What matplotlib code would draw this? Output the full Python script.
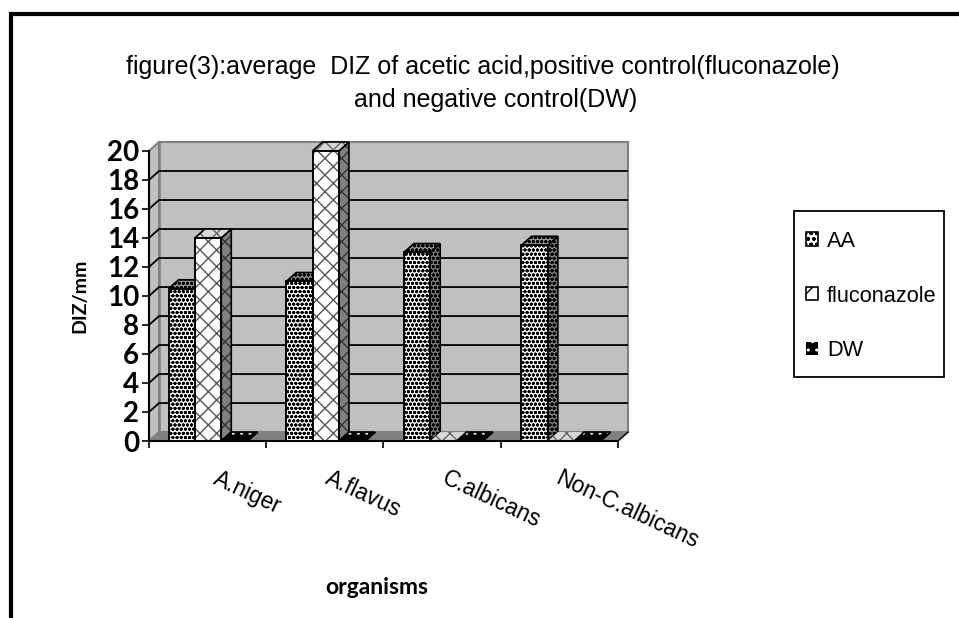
import matplotlib
matplotlib.use("Agg")
import matplotlib.pyplot as plt
from matplotlib.patches import Rectangle, Polygon
from matplotlib.lines import Line2D

categories = ["A.niger", "A.flavus", "C.albicans", "Non-C.albicans"]
series_names = ["AA", "fluconazole", "DW"]
aa = [10.5, 11, 13, 13.5]
fluconazole = [14, 20, 0, 0]
dw = [0, 0, 0, 0]
yticks = list(range(0, 21, 2))

W, H = 959, 618
plt.rcParams["font.family"] = ["Liberation Sans", "DejaVu Sans"]
plt.rcParams["hatch.linewidth"] = 1.0
fig = plt.figure(figsize=(W / 100, H / 100), dpi=100, facecolor="white")

fig.add_artist(Line2D([11 / W, 11 / W, 1], [0, 1 - 14 / H, 1 - 14 / H], color="black", lw=3,
                      solid_joinstyle="miter", transform=fig.transFigure))

L, R, B, T = 149, 628, 441, 142
ax = fig.add_axes([L / W, 1 - B / H, (R - L) / W, (B - T) / H])
DX = 10 / 117
DY = 9 / 14.6
ax.set_xlim(0, 4 + DX)
ax.set_ylim(0, 20 + DY)
for s in ax.spines.values():
    s.set_visible(False)
ax.patch.set_visible(False)

ax.add_patch(Polygon([(DX, DY), (4 + DX, DY), (4 + DX, 20 + DY), (DX, 20 + DY)], fc="#c0c0c0", ec="#808080", lw=1.5, zorder=1, clip_on=False))
ax.add_patch(Polygon([(0, 0), (DX, DY), (DX, 20 + DY), (0, 20)], fc="#c0c0c0", ec="#808080", lw=1.5, zorder=1, clip_on=False))
ax.add_patch(Polygon([(0, 0), (4, 0), (4 + DX, DY), (DX, DY)], fc="#808080", ec="#808080", lw=1, zorder=1, clip_on=False))
ax.plot([DX, DX], [DY, 20 + DY], color="#808080", lw=1.8, zorder=1.5, clip_on=False)
for v in yticks[1:]:
    if v < 20:
        ax.plot([0, DX, 4 + DX], [v, v + DY, v + DY], color="black", lw=1.3, zorder=2, solid_capstyle="butt")
ax.plot([0, 0], [0, 20], color="black", lw=1.5, zorder=3, clip_on=False)
ax.plot([0, 4], [0, 0], color="black", lw=1.5, zorder=30, clip_on=False)
ax.plot([4, 4 + DX], [0, DY], color="black", lw=1.0, zorder=30, clip_on=False)

bw = 26.3 / 117
x0 = 19.5 / 117
step = 117.4 / 117
styles = [
    dict(front=("white", "black", "oooo"), top=("#9a9a9a", "black", "oooo"), side=("#808080", "black", "oooo")),
    dict(front=("white", "#555555", "xx"), top=("#d8d8d8", "#666666", "xx"), side=("#808080", "#333333", "xx")),
    dict(front=("black", "white", "..."), top=("black", "#dddddd", ".."), side=("black", "#dddddd", "..")),
]
series = [aa, fluconazole, dw]
z = 5
for i in range(len(categories)):
    for j, vals in enumerate(series):
        v = vals[i]
        x = i * step + x0 + j * bw
        st = styles[j]
        side = [(x + bw, 0), (x + bw + DX, DY), (x + bw + DX, v + DY), (x + bw, v)]
        top = [(x, v), (x + bw, v), (x + bw + DX, v + DY), (x + DX, v + DY)]
        fc, hc, h = st["side"]
        ax.add_patch(Polygon(side, fc=fc, ec=hc, hatch=h, lw=0, zorder=z, clip_on=False))
        ax.add_patch(Polygon(side, fc="none", ec="black", lw=1.2, zorder=z, clip_on=False))
        fc, hc, h = st["top"]
        ax.add_patch(Polygon(top, fc=fc, ec=hc, hatch=h, lw=0, zorder=z, clip_on=False))
        if v > 0 or j == 2:
            ax.add_patch(Polygon(top, fc="none", ec="black", lw=1.2, zorder=z, clip_on=False))
        if v > 0:
            fc, hc, h = st["front"]
            ax.bar(x, v, bw, align="edge", color=fc, edgecolor=hc, hatch=h, lw=0, zorder=z + 0.1, clip_on=False)
            ax.bar(x, v, bw, align="edge", color="none", edgecolor="black", lw=1.4, zorder=z + 0.2, clip_on=False)
        z += 1

ax.set_yticks(yticks)
ax.set_yticklabels([str(v) for v in yticks], family="Lato", fontweight="bold", fontsize=20)
ax.set_xticks(range(5))
ax.set_xticklabels([])
ax.tick_params(axis="both", length=5, width=1.2, color="black", pad=3)
ax.tick_params(axis="y", pad=2)

label_dx = [5, 1, 1, -2]
for i, c in enumerate(categories):
    ax.annotate(c, xy=(i + 0.5, 0), xycoords="data", xytext=(label_dx[i], -26), textcoords="offset points",
                rotation=-25, rotation_mode="anchor", ha="left", va="center", fontsize=16.3, color="black")

fig.text(483 / W, 1 - 67 / H, "figure(3):average  DIZ of acetic acid,positive control(fluconazole)",
         ha="center", va="center", fontsize=18)
fig.text(496 / W, 1 - 100 / H, "and negative control(DW)", ha="center", va="center", fontsize=18)
fig.text(377 / W, 1 - 587 / H, "organisms", ha="center", va="center", family="Lato", fontweight="bold", fontsize=16.5)
fig.text(80 / W, 1 - 296 / H, "DIZ/mm", ha="center", va="center", rotation=90, family="Lato", fontweight="bold", fontsize=14)

handles = [
    Rectangle((0, 0), 1, 1, fc="white", ec="black", hatch="ooo", lw=1.2),
    Rectangle((0, 0), 1, 1, fc="white", ec="black", hatch="/", lw=1.2),
    Rectangle((0, 0), 1, 1, fc="black", ec="white", hatch="..", lw=0),
]
fig.add_artist(Rectangle((794 / W, 1 - 377 / H), 150 / W, 166 / H, fc="white", ec="black", lw=1.3, transform=fig.transFigure))
leg = fig.legend(handles, series_names, loc="center left", bbox_to_anchor=(806 / W, 1 - 296 / H),
                 frameon=False, fontsize=15.7, handlelength=0.55, handleheight=0.55, handletextpad=0.41,
                 labelspacing=1.55, borderpad=0, borderaxespad=0)

fig.savefig("out.png", dpi=100)
